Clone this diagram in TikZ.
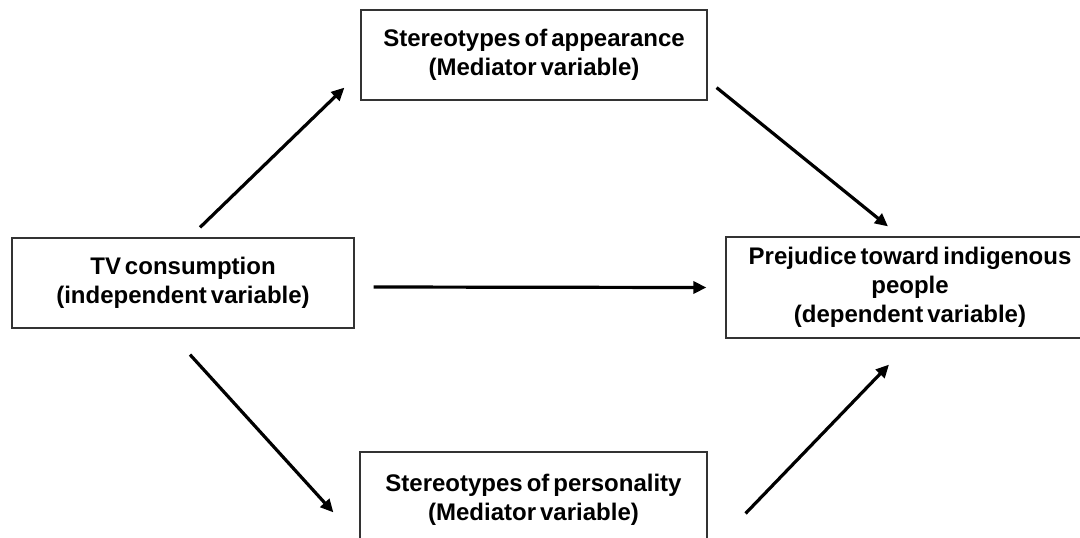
\documentclass[tikz,border=0pt]{standalone}
\usepackage{fontspec}
\setmainfont{Liberation Sans}[WordSpace=0.6]
\usetikzlibrary{arrows.meta}
\begin{document}
\begin{tikzpicture}[x=0.5pt,y=-0.5pt,
    varbox/.style={draw=black!80,line width=0.6pt,align=center,inner sep=0pt,
        font=\fontsize{12}{14.5}\selectfont\bfseries},
    conn/.style={line width=1.6pt,-{Triangle[length=6.5pt,width=6pt]}}]
    \useasboundingbox (0,0) rectangle (1080,537);

    \node[varbox,minimum width=171pt,minimum height=45pt] (tv) at (183,283)
        {TV consumption\\(independent variable)};
    \node[varbox,minimum width=173pt,minimum height=45pt] (appear) at (534,55)
        {Stereotypes of appearance\\(Mediator variable)};
    \node[varbox,minimum width=173.5pt,minimum height=48pt] (person) at (533.5,500)
        {Stereotypes of personality\\(Mediator variable)};
    \node[varbox,minimum width=184pt,minimum height=50.5pt] (prej) at (910,287.5)
        {Prejudice toward indigenous\\people\\(dependent variable)};

    \draw[conn] ([shift={(17,-10)}]tv.north) -- ([shift={(-16,-13)}]appear.south west);
    \draw[conn] ([shift={(9,-13)}]appear.south east) -- ([shift={(-22,-10)}]prej.north);
    \draw[conn] ([shift={(19,4)}]tv.east) -- ([shift={(-19,0)}]prej.west);
    \draw[conn] ([shift={(7,26)}]tv.south) -- ([shift={(-26,61)}]person.north west);
    \draw[conn] ([shift={(38,62)}]person.north east) -- ([shift={(-21,26)}]prej.south);
\end{tikzpicture}
\end{document}
